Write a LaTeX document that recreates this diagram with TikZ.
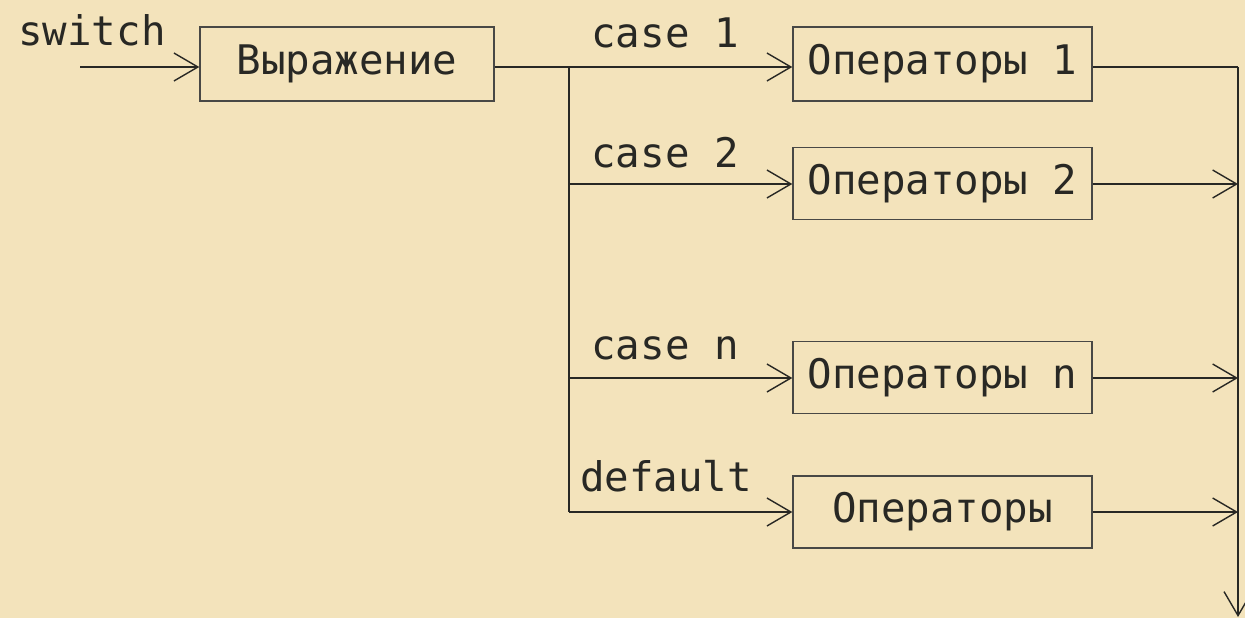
\documentclass[tikz,border=0pt]{standalone}
\usepackage{fontspec}
\setmonofont{DejaVu Sans Mono}
\usetikzlibrary{arrows.meta}
\definecolor{paper}{RGB}{243,227,187}
\definecolor{ink}{RGB}{40,40,36}

\begin{document}
\begin{tikzpicture}[
    every node/.style={font=\ttfamily\fontsize{11.6}{13}\selectfont, text=ink},
    opbox/.style={draw=ink!85, line width=0.4pt, inner sep=0pt, minimum width=2.99cm, minimum height=0.72cm},
    wire/.style={draw=ink, line width=0.4pt},
    tip/.style={wire, -{Straight Barb[length=0.24cm, width=0.28cm]}}
]
                \fill [paper] (0,0) rectangle (12.45,-6.18);
                \useasboundingbox (0,0) rectangle (12.45,-6.18);
                % entry and expression
                \coordinate (in) at (0.80,-0.67);
                \node (sw) at (0.92,-0.30) {switch};
                \node [opbox, minimum width=2.94cm, minimum height=0.74cm] (expr) at (3.47,-0.64) {Выражение};
                \coordinate (fork) at (5.69,-0.67);
                \draw [tip] (in) -- (expr.west |- in);
                \draw [wire] (expr.east |- fork) -- (fork);
                % branches
                \node [opbox, minimum height=0.74cm] (op1) at (9.425,-0.64) {Операторы 1};
                \node [opbox] (op2) at (9.425,-1.835) {Операторы 2};
                \node [opbox] (opn) at (9.425,-3.775) {Операторы n};
                \node [opbox] (opd) at (9.425,-5.12) {Операторы};
                \node (c1) at (6.65,-0.33) {case 1};
                \node (c2) at (6.65,-1.53) {case 2};
                \node (cn) at (6.65,-3.48) {case n};
                \node (cd) at (6.66,-4.76) {default};
                \coordinate (f2) at (5.69,-1.84);
                \coordinate (fn) at (5.69,-3.78);
                \coordinate (fd) at (5.69,-5.12);
                \draw [wire] (fork) -- (fd);
                \draw [tip] (fork) -- (op1.west |- fork);
                \draw [tip] (f2) -- (op2.west |- f2);
                \draw [tip] (fn) -- (opn.west |- fn);
                \draw [tip] (fd) -- (opd.west |- fd);
                % join on the right
                \coordinate (j1) at (12.38,-0.67);
                \coordinate (out) at (12.38,-6.17);
                \draw [wire] (op1.east |- j1) -- (j1);
                \draw [tip] (j1) -- (out);
                \draw [tip] (op2.east |- f2) -- (j1 |- f2);
                \draw [tip] (opn.east |- fn) -- (j1 |- fn);
                \draw [tip] (opd.east |- fd) -- (j1 |- fd);
\end{tikzpicture}
\end{document}
